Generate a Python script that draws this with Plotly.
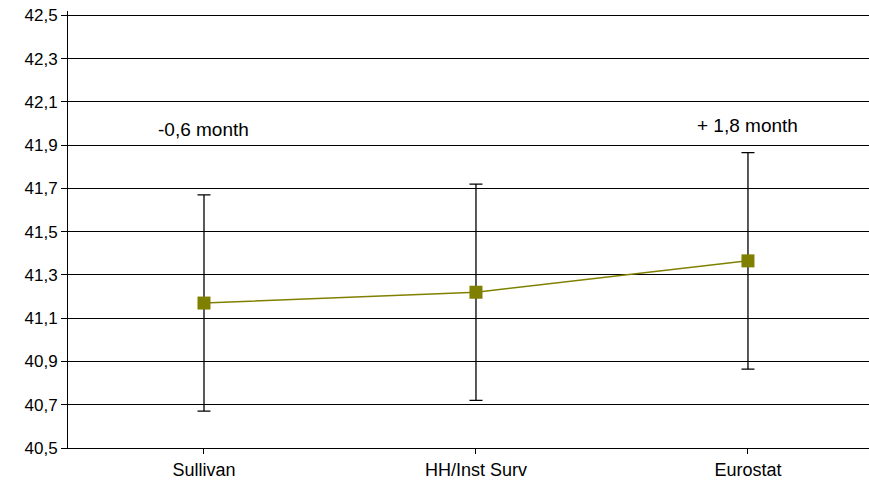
import plotly.graph_objects as go

categories = ["Sullivan", "HH/Inst Surv", "Eurostat"]
values = [41.17, 41.22, 41.365]
errors = [0.5, 0.5, 0.5]
note_texts = ["-0,6 month", "", "+ 1,8 month"]
note_y = [41.97, 41.97, 41.99]
y_ticks = [40.5, 40.7, 40.9, 41.1, 41.3, 41.5, 41.7, 41.9, 42.1, 42.3, 42.5]

fig = go.Figure()
fig.add_trace(go.Scatter(
    x=[0, 1, 2], y=values, mode="lines+markers",
    line=dict(color="#808000", width=1.5),
    marker=dict(symbol="square", size=13, color="#808000"),
    error_y=dict(type="data", array=errors, visible=True, color="black", thickness=1.3, width=6.5),
    showlegend=False,
))

for i, t in enumerate(note_texts):
    if t:
        fig.add_annotation(x=i, y=note_y[i], xref="x", yref="y", text=t, showarrow=False,
                           font=dict(family="Liberation Sans, Arial", size=19, color="black"))

fig.update_layout(
    width=869, height=486,
    margin=dict(l=68, r=0, t=11, b=38),
    paper_bgcolor="white", plot_bgcolor="white",
    separators=", ",
    font=dict(family="Liberation Sans, Arial", size=18, color="black"),
)
fig.update_xaxes(
    range=[-0.5, 2.445], tickmode="array", tickvals=[0, 1, 2], ticktext=categories,
    showgrid=False, showline=True, linecolor="black", linewidth=1,
    ticks="outside", ticklen=5, tickcolor="black",
    zeroline=False, tickfont=dict(size=18),
)
fig.update_xaxes(tickson="boundaries")
fig.update_yaxes(
    range=[40.5, 42.52], tickmode="array", tickvals=y_ticks, tickformat=".1f",
    showgrid=True, gridcolor="black", gridwidth=1,
    showline=True, linecolor="black", linewidth=1,
    ticks="outside", ticklen=6, tickcolor="black",
    zeroline=False, tickfont=dict(size=17),
    ticklabeloverflow="allow", automargin=False,
)
fig.write_html("out.html",
               config={"displayModeBar": False},
               post_script="document.body.style.margin='0';document.body.style.overflow='hidden';")
